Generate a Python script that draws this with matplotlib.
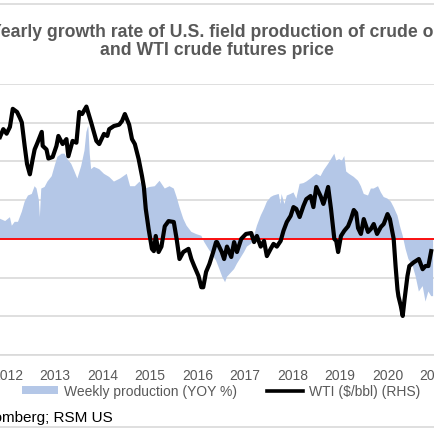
import matplotlib
matplotlib.use("Agg")
import matplotlib.pyplot as plt
from matplotlib.lines import Line2D
from matplotlib.patches import Patch

# time is in decimal years
wti_year = [2011.84, 2011.91, 2011.98, 2012.05, 2012.11, 2012.20, 2012.26, 2012.30, 2012.36, 2012.41,
            2012.47, 2012.53, 2012.57, 2012.63, 2012.72, 2012.74, 2012.82, 2012.86, 2012.95, 2013.03,
            2013.07, 2013.16, 2013.24, 2013.28, 2013.37, 2013.45, 2013.51, 2013.57, 2013.66, 2013.76,
            2013.87, 2013.93, 2014.03, 2014.10, 2014.14, 2014.24, 2014.35, 2014.41, 2014.47, 2014.56,
            2014.62, 2014.68, 2014.76, 2014.83, 2014.87, 2014.91, 2014.97, 2015.04, 2015.08, 2015.12,
            2015.18, 2015.24, 2015.31, 2015.39, 2015.50, 2015.56, 2015.62, 2015.70, 2015.81, 2015.87,
            2015.93, 2016.02, 2016.08, 2016.12, 2016.18, 2016.25, 2016.33, 2016.39, 2016.41, 2016.51,
            2016.56, 2016.62, 2016.71, 2016.77, 2016.83, 2016.92, 2017.02, 2017.13, 2017.19, 2017.25,
            2017.33, 2017.40, 2017.46, 2017.54, 2017.60, 2017.67, 2017.75, 2017.81, 2017.88, 2017.96,
            2018.02, 2018.08, 2018.15, 2018.23, 2018.29, 2018.38, 2018.44, 2018.50, 2018.59, 2018.65,
            2018.67, 2018.75, 2018.81, 2018.88, 2018.92, 2018.96, 2019.02, 2019.09, 2019.17, 2019.23,
            2019.29, 2019.34, 2019.38, 2019.44, 2019.50, 2019.59, 2019.65, 2019.71, 2019.78, 2019.86,
            2019.92, 2020.00, 2020.05, 2020.11, 2020.13, 2020.17, 2020.21, 2020.23, 2020.28, 2020.32,
            2020.36, 2020.42, 2020.46, 2020.55, 2020.66, 2020.74, 2020.80, 2020.86, 2020.92]
wti_price = [96.5, 100, 98, 101, 109, 107.6, 105, 103, 92.6, 84.6,
             80, 86.8, 91, 94, 98.8, 92.6, 91, 87, 87.7, 92.6,
             97, 93.4, 95.6, 88, 94.8, 94, 107.6, 106.7, 110, 103,
             94.8, 93.4, 97.9, 97, 100, 101.4, 102, 103.6, 106.7, 102,
             95.6, 93.4, 86.8, 79.3, 74.4, 64.7, 55.8, 47, 46, 52.7,
             45.6, 48, 57, 59.3, 58.9, 51.4, 42.5, 45.6, 47, 42.5,
             39.4, 35, 30, 30, 36.8, 40.3, 45.6, 50, 50, 45.6,
             42.5, 48, 43.4, 50, 45.6, 51.4, 53.6, 54, 50, 52.7,
             48, 50.5, 43.8, 47, 49.2, 48, 50.5, 55, 58.9, 61.6,
             65.5, 64.7, 61.1, 66, 69, 70.4, 65.5, 74.4, 70.4, 66.9,
             68.2, 74.4, 64.7, 51.4, 50.5, 45.6, 52.7, 55, 57, 60.2,
             64.2, 62.9, 56.2, 53.6, 60.2, 54.5, 55.8, 58, 53.6, 56.7,
             58, 62.4, 60.2, 53.6, 51.4, 39.4, 29, 26, 21.7, 17.3,
             24.8, 35, 39.4, 41, 42.5, 38, 39.4, 39.4, 46]

prod_year = [2011.80, 2011.84, 2011.95, 2012.05, 2012.09, 2012.15, 2012.22, 2012.30, 2012.36, 2012.43,
             2012.51, 2012.57, 2012.61, 2012.66, 2012.68, 2012.71, 2012.78, 2012.84, 2012.93, 2012.99,
             2013.05, 2013.14, 2013.20, 2013.26, 2013.34, 2013.41, 2013.47, 2013.55, 2013.62, 2013.66,
             2013.70, 2013.73, 2013.76, 2013.82, 2013.93, 2014.03, 2014.14, 2014.24, 2014.37, 2014.51,
             2014.58, 2014.68, 2014.78, 2014.89, 2014.99, 2015.10, 2015.20, 2015.31, 2015.41, 2015.50,
             2015.56, 2015.62, 2015.70, 2015.77, 2015.87, 2015.98, 2016.08, 2016.14, 2016.23, 2016.33,
             2016.39, 2016.46, 2016.52, 2016.58, 2016.62, 2016.71, 2016.77, 2016.83, 2016.92, 2016.98,
             2017.04, 2017.13, 2017.19, 2017.25, 2017.33, 2017.40, 2017.46, 2017.54, 2017.60, 2017.71,
             2017.75, 2017.77, 2017.83, 2017.88, 2017.96, 2018.02, 2018.08, 2018.15, 2018.23, 2018.29,
             2018.38, 2018.44, 2018.50, 2018.59, 2018.65, 2018.67, 2018.75, 2018.81, 2018.88, 2018.92,
             2018.98, 2019.04, 2019.09, 2019.13, 2019.19, 2019.29, 2019.38, 2019.44, 2019.50, 2019.59,
             2019.65, 2019.71, 2019.80, 2019.86, 2019.92, 2020.00, 2020.07, 2020.13, 2020.21, 2020.26,
             2020.32, 2020.38, 2020.44, 2020.53, 2020.59, 2020.66, 2020.74, 2020.80, 2020.86, 2020.92,
             2020.96]
prod_yoy = [2.6, 2.6, 2.3, 2.8, 1.7, 2.2, 2.2, 3.5, 4.8, 5.6,
            5.8, 6.8, 6.5, 5.0, 2.8, 6.5, 6.7, 7.4, 8.1, 9.4,
            10.6, 11, 11, 10.3, 9.7, 8.7, 7.8, 9.4, 11.4, 13.8,
            14.6, 11, 9, 9.3, 9, 8.4, 8, 7.4, 7.8, 8.4,
            6.8, 6.8, 7.4, 6.5, 6.7, 6.8, 7.5, 6.5, 6.8, 6.5,
            5.4, 4.1, 2.6, 1.7, 0.9, 0.6, 0.4, -0.4, -1.3, -2.2,
            -2.8, -3.9, -4.9, -5.6, -4.9, -4.3, -3.9, -3.2, -2.3, -1.7,
            -1.0, -0.6, 0.4, 1.7, 3, 3.9, 4.8, 5.4, 5.6, 5.8,
            4.5, 5.8, 4.5, 5.6, 5.8, 6, 5.2, 7.1, 7.2, 7.4,
            7.8, 8.1, 8.4, 8.1, 8.8, 9, 9.7, 10.3, 11, 10.1,
            10.3, 10.1, 10.7, 8.7, 8.4, 8, 7.5, 6.8, 5.8, 5.6,
            6.5, 6.5, 6.8, 6, 5.4, 5.2, 4.8, 4.1, 3, 1.7,
            0.4, -1.3, -2.6, -3.5, -4.8, -6.8, -6.1, -8.1, -6.8, -7.4,
            -7.4]

years = list(range(2012, 2022))

plt.rcParams['font.family'] = ['Liberation Sans', 'DejaVu Sans']
grey = '#595959'
grid_grey = '#d9d9d9'

fig = plt.figure(figsize=(4.35, 4.35), dpi=100)
ax = fig.add_axes([0.0, 0.1816, 1.0, 0.623])

ax.fill_between(prod_year, prod_yoy, 0, color='#b4c7e7', linewidth=0, zorder=2)
ax.axhline(0, color='#ff0000', linewidth=1.3, zorder=3)
ax.set_xlim(2011.841, 2020.923)
ax.set_yticks(range(-15, 21, 5))
ax.set_ylim(-15, 20)
ax.yaxis.grid(True, color=grid_grey, linewidth=1.2, zorder=0)
ax.set_axisbelow(True)
ax.set_xticks(years)
ax.set_xticklabels([str(y) for y in years])
ax.tick_params(axis='x', length=0, pad=9, labelsize=10, labelcolor=grey)
ax.tick_params(axis='y', length=0, labelleft=False)
for side in ['left', 'right', 'top']:
    ax.spines[side].set_visible(False)
ax.spines['bottom'].set_color(grid_grey)
ax.spines['bottom'].set_linewidth(1.2)

# WTI on the right-hand scale
ax2 = ax.twinx()
ax2.plot(wti_year, wti_price, color='black', linewidth=3.0, zorder=4)
ax2.set_ylim(0, 120)
ax2.tick_params(axis='y', length=0, labelright=False)
for side in ['left', 'right', 'top', 'bottom']:
    ax2.spines[side].set_visible(False)

fig.text(0.4977, 0.915, 'Yearly growth rate of U.S. field production of crude oil',
         ha='center', va='baseline', fontsize=12.7, fontweight='bold', color=grey)
fig.text(0.4977, 0.873, 'and WTI crude futures price',
         ha='center', va='baseline', fontsize=12.7, fontweight='bold', color=grey)

handles = [Patch(facecolor='#b4c7e7', edgecolor='none'),
           Line2D([], [], color='black', linewidth=2.6)]
fig.legend(handles, ['Weekly production (YOY %)', 'WTI ($/bbl) (RHS)'],
           loc='center', bbox_to_anchor=(0.508, 0.099), ncol=2, frameon=False,
           fontsize=10, labelcolor=grey, handlelength=2.6, handleheight=0.45,
           handletextpad=0.4, columnspacing=2.2)

fig.text(0.26, 0.030, 'Source: Bloomberg; RSM US', ha='right', va='baseline',
         fontsize=11, color='black')

for y in [1 - 5 / 435, 1 - 428 / 435]:
    fig.add_artist(Line2D([0, 1], [y, y], transform=fig.transFigure,
                          color=grid_grey, linewidth=1.2))

fig.savefig('out.png', dpi=100)
